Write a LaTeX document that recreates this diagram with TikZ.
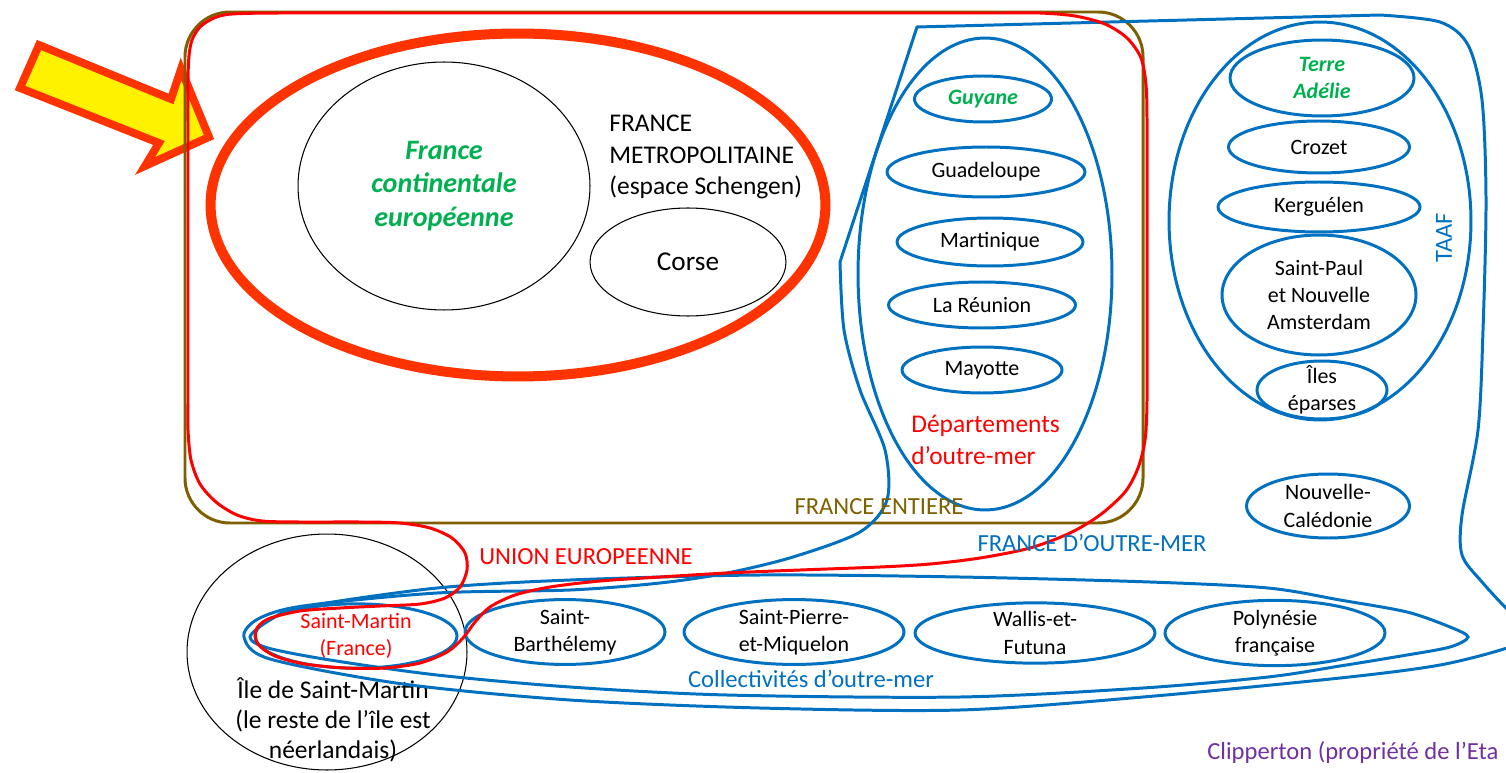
\documentclass[tikz,border=0pt]{standalone}
\usepackage{fontspec}
\setmainfont{Carlito}
\usepackage{tikz}
\usetikzlibrary{shapes}
\definecolor{fblue}{HTML}{0070C0}
\definecolor{fred}{HTML}{FF0000}
\definecolor{forange}{HTML}{FF3300}
\definecolor{fgreen}{HTML}{00B050}
\definecolor{fbrown}{HTML}{7F6000}
\definecolor{fpurple}{HTML}{7030A0}
\tikzstyle{item} = [ellipse, draw=fblue, line width=1.7pt, inner sep=0pt, align=center, font=\fontsize{12.5}{15.5}\selectfont]
\tikzstyle{thin} = [ellipse, draw=black, line width=0.6pt, inner sep=0pt, align=center]
\tikzstyle{tag} = [inner sep=0pt, align=center, font=\fontsize{14}{17.5}\selectfont]
\tikzstyle{greentxt} = [text=fgreen, font=\fontsize{12.5}{15.5}\selectfont\bfseries\itshape]
\tikzstyle{contour} = [line width=1.7pt]

\begin{document}
\begin{tikzpicture}[x=0.02cm, y=-0.02cm]
\useasboundingbox (0,0) rectangle (1506,773);
\clip (0,0) rectangle (1506,773);

\draw[draw=forange, fill=yellow, line width=4.5pt] (39,45) -- (171,99) -- (181,69) -- (209,137) -- (145,166) -- (159,143) -- (20,88) -- cycle;

\draw[contour, fbrown, rounded corners=0.9cm] (185,12) rectangle (1143,523);

\node(metro)[thin, draw=forange, line width=5.7pt, minimum width=12.3cm, minimum height=6.86cm] at (518,205) {};
\node(cont)[thin, minimum width=5.84cm, minimum height=4.96cm, text=fgreen, font=\fontsize{16}{19}\selectfont\bfseries\itshape] at (444,186) {France\\continentale\\européenne};
\node(corse)[thin, minimum width=3.92cm, minimum height=2.16cm, font=\fontsize{15.5}{18}\selectfont] at (688,262) {Corse};
\node(metrotxt)[tag, align=left, anchor=west, font=\fontsize{14.5}{18}\selectfont] at (609,157) {FRANCE\\METROPOLITAINE\\(espace Schengen)};

\node(dom)[item, minimum width=5.08cm, minimum height=9.44cm] at (985,274) {};
\node(guy)[item, greentxt, minimum width=2.74cm, minimum height=0.92cm] at (983,99) {Guyane};
\node(gua)[item, minimum width=3.96cm, minimum height=1cm] at (986,172) {Guadeloupe};
\node(mar)[item, minimum width=3.72cm, minimum height=0.96cm] at (990,242) {Martinique};
\node(reu)[item, minimum width=3.74cm, minimum height=0.92cm] at (982,305) {La Réunion};
\node(may)[item, minimum width=3.2cm, minimum height=0.92cm] at (982,370) {Mayotte};
\node(domtxt)[tag, align=left, anchor=west, text=fred, font=\fontsize{14.5}{18}\selectfont] at (911,440) {Départements\\d’outre-mer};

\node(taaf)[item, minimum width=6.04cm, minimum height=7.96cm] at (1320,221) {};
\node(ter)[item, greentxt, minimum width=3.68cm, minimum height=1.52cm] at (1322,78) {Terre\\Adélie};
\node(cro)[item, minimum width=3.62cm, minimum height=1.04cm] at (1319,147) {Crozet};
\node(ker)[item, minimum width=4.04cm, minimum height=1cm] at (1319,207) {Kerguélen};
\node(spa)[item, minimum width=3.88cm, minimum height=2.4cm] at (1319,295) {Saint-Paul\\et Nouvelle\\Amsterdam};
\node(epa)[item, inner sep=-8pt, minimum width=2.6cm, minimum height=1.16cm] at (1322,390) {Îles\\éparses};
\node(taaftxt)[tag, text=fblue, rotate=90] at (1444,238) {TAAF};
\node(nca)[item, minimum width=3.26cm, minimum height=1.28cm] at (1328,506) {Nouvelle-\\Calédonie};

\node(ile)[thin, minimum width=5.6cm, minimum height=4.72cm] at (327,652) {};
\node(iletxt)[tag, font=\fontsize{14.5}{17}\selectfont] at (333,720) {Île de Saint-Martin\\(le reste de l’île est\\néerlandais)};

\node(smf)[item, text=fred, minimum width=4.04cm, minimum height=1.12cm] at (356,636) {Saint-Martin\\(France)};
\node(sba)[item, minimum width=4cm, minimum height=1.14cm] at (565,632) {Saint-\\Barthélemy};
\node(spm)[item, minimum width=4.4cm, minimum height=1.14cm] at (794,632) {Saint-Pierre-\\et-Miquelon};
\node(wal)[item, minimum width=4.8cm, minimum height=1.2cm] at (1035,633) {Wallis-et-\\Futuna};
\node(pol)[item, minimum width=4.4cm, minimum height=1.28cm] at (1275,633) {Polynésie\\française};

\draw[contour, fblue] plot[smooth cycle, tension=0.5] coordinates {(250,637) (270,620) (303,607) (437,588) (570,580) (760,575) (960,577) (1150,582) (1268,588) (1340,600) (1407,612) (1450,627) (1468,637) (1450,647) (1407,655) (1340,666) (1268,677) (1143,688) (960,697) (727,695) (570,687) (437,675) (330,660) (268,648)};

\draw[contour, fblue] (917,27) -- plot[smooth, tension=0.5] coordinates {(1380,15) (1440,22) (1468,45) (1482,100) (1486,200) (1483,330) (1478,430) (1462,515) (1462,555) (1482,582) (1510,612) (1535,632) (1510,647) (1440,665) (1340,678) (1143,697) (960,710) (760,708) (570,700) (403,684) (270,659) (244,637) (258,619) (303,606) (437,593) (570,590) (660,583) (727,573) (793,557) (860,532) (887,500) (885,450) (860,390) (844,330) (840,262)} -- cycle;

\draw[contour, fred] plot[smooth cycle, tension=0.5] coordinates {(188,400) (188,300) (188,200) (188,130) (188,80) (189,56) (192,40) (200,27) (214,18) (232,14) (280,13) (400,13) (700,13) (1000,13) (1040,13) (1075,16) (1105,24) (1127,38) (1141,58) (1146,85) (1147,120) (1147,200) (1147,300) (1147,400) (1145,440) (1138,468) (1125,492) (1100,515) (1070,533) (1030,548) (980,558) (930,564) (880,567) (800,570) (727,573) (660,577) (600,581) (550,587) (515,595) (490,607) (475,622) (463,638) (447,652) (420,663) (385,668) (345,668) (305,664) (275,656) (258,644) (256,630) (268,619) (300,611) (340,608) (380,606) (420,604) (445,598) (460,587) (467,570) (465,553) (452,538) (430,528) (400,523) (360,522) (300,522) (262,521) (237,515) (216,502) (200,484) (191,460) (188,430)};

\node(entiere)[tag, text=fbrown] at (879,507) {FRANCE ENTIERE};
\node(ue)[tag, text=fred] at (586,557) {UNION EUROPEENNE};
\node(fom)[tag, text=fblue] at (1092,543) {FRANCE D’OUTRE-MER};
\node(com)[tag, text=fblue] at (811,679) {Collectivités d’outre-mer};
\node(cli)[tag, text=fpurple, anchor=west] at (1207,752) {Clipperton (propriété de l’Eta};

\end{tikzpicture}
\end{document}
